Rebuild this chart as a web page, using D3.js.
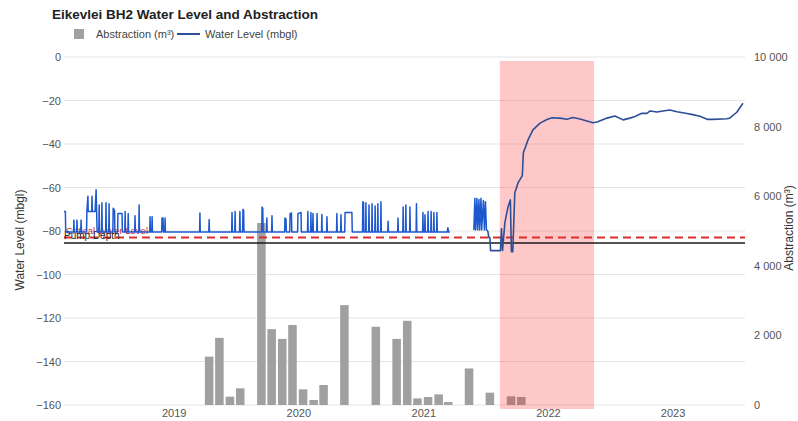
<!DOCTYPE html>
<html>
<head>
<meta charset="utf-8">
<script src="https://cdn.jsdelivr.net/npm/d3@7"></script>
<style>
  body { margin: 0; background: #fff; font-family: "Liberation Sans", Arial, sans-serif; }
  .axis text { fill: #555; font-size: 11px; }
</style>
</head>
<body>
<div id="chart"></div>
<script>
// Left axis (water level) and right axis (abstraction) ticks
const levelTicks = [0, -20, -40, -60, -80, -100, -120, -140, -160];
const abstractionTicks = [0, 2000, 4000, 6000, 8000, 10000];
const yearTicks = ["2019-01-01", "2020-01-01", "2021-01-01", "2022-01-01", "2023-01-01"];
const timeExtent = ["2018-02-14", "2023-08-01"];

// Monthly abstraction (m³)
const abstractionMonths = [
  "2019-04-15", "2019-05-15", "2019-06-15", "2019-07-15", "2019-09-15", "2019-10-15",
  "2019-11-15", "2019-12-15", "2020-01-15", "2020-02-15", "2020-03-15", "2020-05-15",
  "2020-08-15", "2020-10-15", "2020-11-15", "2020-12-15", "2021-01-15", "2021-02-15",
  "2021-03-15", "2021-05-15", "2021-07-15", "2021-09-15", "2021-10-15"
];
const abstractionValues = [
  1390, 1930, 240, 480, 5230, 2180,
  1900, 2300, 450, 145, 575, 2870,
  2250, 1900, 2420, 190, 230, 305,
  85, 1050, 355, 250, 230
];

// Water level while pumping (mbgl), null marks the logger gap
const pumpingLevels = [
  ["2018-02-14", -71], ["2018-02-18", -71], ["2018-02-19", -80.5],
  ["2018-03-14", -80.5], ["2018-03-15", -75], ["2018-03-16", -80.5],
  ["2018-03-23", -80.5], ["2018-03-24", -75], ["2018-03-25", -80.5],
  ["2018-04-04", -80.5], ["2018-04-05", -75], ["2018-04-06", -80.5],
  ["2018-04-21", -80.5], ["2018-04-22", -71], ["2018-04-25", -64], ["2018-04-26", -71],
  ["2018-05-06", -71], ["2018-05-07", -64], ["2018-05-08", -71], ["2018-05-16", -71], ["2018-05-19", -61], ["2018-05-22", -80.5],
  ["2018-05-27", -80.5], ["2018-05-28", -68], ["2018-05-29", -80.5],
  ["2018-06-04", -80.5], ["2018-06-05", -67], ["2018-06-06", -80.5],
  ["2018-06-16", -80.5], ["2018-06-17", -67], ["2018-06-18", -80.5],
  ["2018-06-25", -80.5], ["2018-06-26", -67.5], ["2018-06-27", -80.5],
  ["2018-07-07", -80.5], ["2018-07-08", -69.5], ["2018-07-12", -70.5], ["2018-07-13", -80.5],
  ["2018-07-21", -80.5], ["2018-07-22", -72], ["2018-08-03", -72], ["2018-08-04", -80.5],
  ["2018-08-11", -80.5], ["2018-08-12", -71], ["2018-08-13", -80.5],
  ["2018-08-20", -80.5], ["2018-08-21", -72], ["2018-08-22", -80.5],
  ["2018-09-09", -80.5], ["2018-09-10", -73], ["2018-09-11", -80.5],
  ["2018-09-21", -80.5], ["2018-09-22", -68], ["2018-09-23", -80.5],
  ["2018-10-23", -80.5], ["2018-10-24", -73.5], ["2018-10-25", -80.5],
  ["2018-10-29", -80.5], ["2018-10-30", -73.5], ["2018-10-31", -80.5],
  ["2018-11-27", -80.5], ["2018-11-28", -74], ["2018-12-01", -74], ["2018-12-02", -80.5],
  ["2018-12-06", -80.5], ["2018-12-07", -74], ["2018-12-08", -80.5],
  ["2019-03-18", -80.5], ["2019-03-19", -71.7], ["2019-03-20", -80.5],
  ["2019-04-14", -80.5], ["2019-04-15", -74.7], ["2019-04-16", -80.5],
  ["2019-06-20", -80.5], ["2019-06-21", -71.5], ["2019-06-22", -80.5],
  ["2019-06-29", -80.5], ["2019-06-30", -71], ["2019-07-01", -80.5],
  ["2019-07-13", -80.5], ["2019-07-14", -71], ["2019-07-15", -80.5],
  ["2019-07-22", -80.5], ["2019-07-23", -70], ["2019-07-25", -70.5], ["2019-07-26", -80.5],
  ["2019-09-16", -80.5], ["2019-09-17", -69], ["2019-09-19", -69.5], ["2019-09-20", -80.5],
  ["2019-09-30", -80.5], ["2019-10-01", -74], ["2019-10-02", -80.5],
  ["2019-10-15", -80.5], ["2019-10-16", -73], ["2019-10-17", -80.5],
  ["2019-11-22", -80.5], ["2019-11-23", -74], ["2019-11-26", -74.5], ["2019-11-27", -80.5],
  ["2019-12-07", -80.5], ["2019-12-08", -72], ["2019-12-12", -71.7], ["2019-12-13", -80.5],
  ["2019-12-30", -80.5], ["2019-12-31", -72], ["2020-01-09", -71.5], ["2020-01-10", -80.5],
  ["2020-01-28", -80.5], ["2020-01-29", -71], ["2020-01-30", -80.5],
  ["2020-02-06", -80.5], ["2020-02-07", -71.5], ["2020-02-08", -80.5],
  ["2020-02-12", -80.5], ["2020-02-13", -72], ["2020-02-14", -80.5],
  ["2020-02-24", -80.5], ["2020-02-25", -72], ["2020-02-26", -80.5],
  ["2020-03-09", -80.5], ["2020-03-10", -72.4], ["2020-03-11", -80.5],
  ["2020-03-24", -80.5], ["2020-03-25", -73.5], ["2020-03-26", -80.5],
  ["2020-04-22", -80.5], ["2020-04-23", -72], ["2020-04-24", -80.5],
  ["2020-05-04", -80.5], ["2020-05-05", -72.5], ["2020-05-06", -80.5],
  ["2020-05-16", -80.5], ["2020-05-17", -71.5], ["2020-06-06", -71.5], ["2020-06-07", -80.5],
  ["2020-07-07", -80.5], ["2020-07-08", -66.5], ["2020-07-10", -67], ["2020-07-11", -80.5],
  ["2020-07-16", -80.5], ["2020-07-17", -67], ["2020-07-18", -80.5],
  ["2020-07-25", -80.5], ["2020-07-26", -68], ["2020-07-27", -80.5],
  ["2020-08-03", -80.5], ["2020-08-04", -67.5], ["2020-08-05", -80.5],
  ["2020-08-12", -80.5], ["2020-08-13", -68.5], ["2020-08-14", -80.5],
  ["2020-08-20", -80.5], ["2020-08-21", -67.5], ["2020-08-22", -80.5],
  ["2020-08-29", -80.5], ["2020-08-30", -66.5], ["2020-08-31", -80.5],
  ["2020-09-19", -80.5], ["2020-09-20", -75.5], ["2020-09-21", -80.5],
  ["2020-10-18", -80.5], ["2020-10-19", -74], ["2020-10-20", -80.5],
  ["2020-11-02", -80.5], ["2020-11-03", -69], ["2020-11-04", -80.5],
  ["2020-11-10", -80.5], ["2020-11-11", -68], ["2020-11-12", -80.5],
  ["2020-11-22", -80.5], ["2020-11-23", -69], ["2020-11-24", -80.5],
  ["2020-12-11", -80.5], ["2020-12-12", -67.5], ["2020-12-13", -80.5],
  ["2020-12-30", -80.5], ["2020-12-31", -71.5], ["2021-01-01", -80.5],
  ["2021-01-05", -80.5], ["2021-01-06", -72.5], ["2021-01-07", -80.5],
  ["2021-01-14", -80.5], ["2021-01-15", -71], ["2021-01-16", -80.5],
  ["2021-01-23", -80.5], ["2021-01-24", -71], ["2021-01-25", -80.5],
  ["2021-01-31", -80.5], ["2021-02-01", -71.5], ["2021-02-02", -80.5],
  ["2021-02-09", -80.5], ["2021-02-10", -71.5], ["2021-02-11", -80.5],
  ["2021-03-12", -80.5], ["2021-03-14", -78.5], ["2021-03-16", -80.5], ["2021-03-20", -80.5],
  ["2021-03-21", null],
  ["2021-05-29", -79.5], ["2021-06-01", -65], ["2021-06-03", -79.5], ["2021-06-07", -65], ["2021-06-09", -79.5],
  ["2021-06-13", -65.5], ["2021-06-15", -79.5], ["2021-06-19", -65], ["2021-06-21", -79.5],
  ["2021-06-26", -66], ["2021-06-29", -79.5], ["2021-07-02", -66.5], ["2021-07-05", -79.5], ["2021-07-09", -80]
];

// Water level after pumping stopped (mbgl)
const recoveryLevels = [
  ["2021-07-09", -80], ["2021-07-12", -83], ["2021-07-15", -83], ["2021-07-17", -89], ["2021-08-15", -89],
  ["2021-08-18", -79], ["2021-08-21", -89], ["2021-08-28", -76], ["2021-09-06", -69], ["2021-09-13", -65.7],
  ["2021-09-16", -89.5], ["2021-09-20", -89.5], ["2021-09-26", -62.5], ["2021-10-05", -58], ["2021-10-18", -54.5],
  ["2021-10-21", -44], ["2021-11-04", -38], ["2021-11-18", -33.5], ["2021-12-09", -30.4], ["2021-12-29", -28.7],
  ["2022-01-13", -27.9], ["2022-02-05", -28.1], ["2022-02-26", -28.6], ["2022-03-15", -27.8], ["2022-04-05", -28.5],
  ["2022-04-25", -29.4], ["2022-05-13", -30.2], ["2022-05-27", -29.8], ["2022-06-23", -28.1], ["2022-07-16", -27.1],
  ["2022-08-09", -28.9], ["2022-08-29", -28.1], ["2022-09-13", -27.4], ["2022-10-03", -25.9], ["2022-10-18", -25.9],
  ["2022-10-27", -24.8], ["2022-11-16", -25.3], ["2022-12-04", -24.8], ["2022-12-24", -24.4], ["2023-01-14", -25.2],
  ["2023-02-12", -26], ["2023-03-01", -26.5], ["2023-03-22", -27.2], ["2023-04-14", -28.7], ["2023-04-29", -28.7],
  ["2023-06-09", -28.4], ["2023-06-18", -28], ["2023-07-08", -25.4], ["2023-07-26", -21.3]
];

const criticalLevel = -83;
const pumpDepth = -85.5;
const highlightPeriod = ["2021-08-13", "2022-05-16"];

const config = {
  width: 798,
  height: 421,
  margin: { top: 57, right: 53, bottom: 16, left: 64 }
};

const parse = d3.timeParse("%Y-%m-%d");
const innerW = config.width - config.margin.left - config.margin.right;
const innerH = config.height - config.margin.top - config.margin.bottom;

const svg = d3.select("#chart").append("svg")
  .attr("width", config.width)
  .attr("height", config.height);

const g = svg.append("g")
  .attr("transform", `translate(${config.margin.left},${config.margin.top})`);

// Scales
const x = d3.scaleTime().domain(timeExtent.map(parse)).range([0, innerW]);
const yLevel = d3.scaleLinear().domain([-160, 0]).range([innerH, 0]);
const yAbs = d3.scaleLinear().domain([0, 10000]).range([innerH, 0]);

const spaceLocale = d3.formatLocale({ decimal: ".", thousands: " ", grouping: [3], currency: ["", ""] });

// Gridlines
g.append("g")
  .selectAll("line")
  .data(levelTicks)
  .join("line")
  .attr("x1", 0)
  .attr("x2", innerW)
  .attr("y1", d => yLevel(d))
  .attr("y2", d => yLevel(d))
  .attr("stroke", "#e5e5e5")
  .attr("stroke-width", 1);

// Abstraction bars
const halfMonth = 12.5 * 24 * 3600 * 1000;
g.append("g")
  .selectAll("rect")
  .data(abstractionMonths.map((m, i) => ({ date: parse(m), value: abstractionValues[i] })))
  .join("rect")
  .attr("x", d => x(new Date(+d.date - halfMonth)))
  .attr("width", d => x(new Date(+d.date + halfMonth)) - x(new Date(+d.date - halfMonth)))
  .attr("y", d => yAbs(d.value))
  .attr("height", d => yAbs(0) - yAbs(d.value))
  .attr("fill", "#a0a0a0");

// Highlighted recovery period
g.append("rect")
  .attr("x", x(parse(highlightPeriod[0])))
  .attr("width", x(parse(highlightPeriod[1])) - x(parse(highlightPeriod[0])))
  .attr("y", yLevel(0) + 4)
  .attr("height", yLevel(-160) - yLevel(0))
  .attr("fill", "#ff1a1a")
  .attr("opacity", 0.24);

// Reference levels
g.append("line")
  .attr("x1", 0).attr("x2", innerW)
  .attr("y1", yLevel(criticalLevel)).attr("y2", yLevel(criticalLevel))
  .attr("stroke", "#d9302f")
  .attr("stroke-width", 2)
  .attr("stroke-dasharray", "8,5");

g.append("line")
  .attr("x1", 0).attr("x2", innerW)
  .attr("y1", yLevel(pumpDepth)).attr("y2", yLevel(pumpDepth))
  .attr("stroke", "#1a1a1a")
  .attr("stroke-width", 1.5);

// Reference level labels (they overlap in the source chart)
g.append("text")
  .attr("x", 2)
  .attr("y", yLevel(criticalLevel) - 4)
  .attr("font-size", "9.5px")
  .attr("fill", "#d02c2c")
  .text("Critical Water Level");

g.append("text")
  .attr("x", 0)
  .attr("y", yLevel(pumpDepth) - 4)
  .attr("font-size", "10px")
  .attr("fill", "#222")
  .text("Pump Depth");

// Water level lines
const line = d3.line()
  .defined(d => d[1] !== null)
  .x(d => x(parse(d[0])))
  .y(d => yLevel(d[1]));

g.append("path")
  .datum(pumpingLevels)
  .attr("fill", "none")
  .attr("stroke", "#1d58cf")
  .attr("stroke-width", 1.5)
  .attr("stroke-linejoin", "round")
  .attr("d", line);

g.append("path")
  .datum(recoveryLevels)
  .attr("fill", "none")
  .attr("stroke", "#2c4f96")
  .attr("stroke-width", 1.6)
  .attr("stroke-linejoin", "round")
  .attr("d", line);

// Axes
const leftAxis = d3.axisLeft(yLevel).tickValues(levelTicks).tickSize(0).tickPadding(3);
g.append("g").attr("class", "axis").call(leftAxis).call(a => a.select(".domain").remove());

const rightAxis = d3.axisRight(yAbs).tickValues(abstractionTicks).tickSize(0).tickPadding(9)
  .tickFormat(spaceLocale.format(","));
g.append("g").attr("class", "axis")
  .attr("transform", `translate(${innerW},0)`)
  .call(rightAxis).call(a => a.select(".domain").remove());

const bottomAxis = d3.axisBottom(x).tickValues(yearTicks.map(parse)).tickSize(0).tickPadding(4)
  .tickFormat(d3.timeFormat("%Y"));
g.append("g").attr("class", "axis")
  .attr("transform", `translate(0,${innerH})`)
  .call(bottomAxis).call(a => a.select(".domain").remove());

// Axis titles
svg.append("text")
  .attr("transform", `translate(24,240) rotate(-90)`)
  .attr("text-anchor", "middle")
  .attr("font-size", "12px")
  .attr("fill", "#333")
  .text("Water Level (mbgl)");

svg.append("text")
  .attr("transform", `translate(793,228) rotate(-90)`)
  .attr("text-anchor", "middle")
  .attr("font-size", "12px")
  .attr("fill", "#333")
  .text("Abstraction (m³)");

// Title
svg.append("text")
  .attr("x", 52)
  .attr("y", 19)
  .attr("font-size", "13.5px")
  .attr("font-weight", "bold")
  .attr("fill", "#222")
  .text("Eikevlei BH2 Water Level and Abstraction");

// Legend
const legend = svg.append("g").attr("font-size", "11px").attr("fill", "#444");
legend.append("rect").attr("x", 74).attr("y", 29).attr("width", 10).attr("height", 10).attr("fill", "#a0a0a0");
legend.append("text").attr("x", 96).attr("y", 38).text("Abstraction (m³)");
legend.append("line").attr("x1", 177).attr("x2", 200).attr("y1", 34).attr("y2", 34)
  .attr("stroke", "#2c4f96").attr("stroke-width", 2);
legend.append("text").attr("x", 205).attr("y", 38).text("Water Level (mbgl)");
</script>
</body>
</html>
